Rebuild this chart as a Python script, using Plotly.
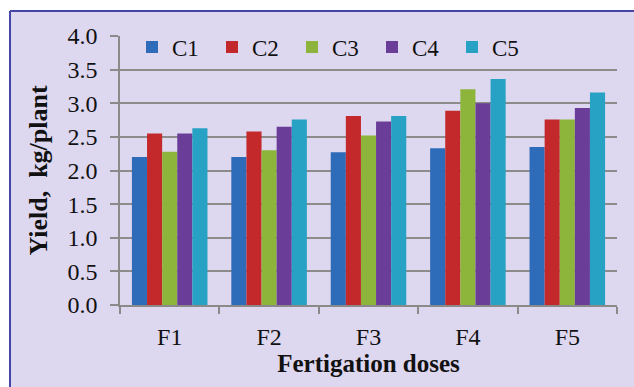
import plotly.graph_objects as go

categories = ["F1", "F2", "F3", "F4", "F5"]
series_names = ["C1", "C2", "C3", "C4", "C5"]
c1 = [2.20, 2.20, 2.27, 2.33, 2.35]
c2 = [2.55, 2.58, 2.81, 2.89, 2.76]
c3 = [2.28, 2.30, 2.52, 3.21, 2.76]
c4 = [2.55, 2.65, 2.73, 3.00, 2.93]
c5 = [2.63, 2.76, 2.81, 3.36, 3.16]
series_values = [c1, c2, c3, c4, c5]
colors = ["#2E6BB8", "#C3282B", "#8DB53B", "#6A3E98", "#27A2C4"]
y_ticks = [0, 0.5, 1.0, 1.5, 2.0, 2.5, 3.0, 3.5, 4.0]

FONT = "Liberation Serif"
BG = "#DDD7F0"
TXT = "#111111"

fig = go.Figure()
for name, vals, col in zip(series_names, series_values, colors):
    fig.add_trace(go.Bar(x=categories, y=vals, name=name, marker_color=col,
                         marker_line_width=0))

W, H = 634, 387
L, R, T, B = 120, 17, 36, 82
pw, ph = W - L - R, H - T - B

def px_x(p):
    return (p - L) / pw

def px_y(p):
    return (H - B - p) / ph

# white margins at top and left, blue border line
fig.add_shape(type="rect", xref="paper", yref="paper",
              x0=px_x(0), x1=px_x(634), y0=px_y(11), y1=px_y(0),
              fillcolor="white", line_width=0, layer="below")
fig.add_shape(type="rect", xref="paper", yref="paper",
              x0=px_x(0), x1=px_x(10), y0=px_y(387), y1=px_y(0),
              fillcolor="white", line_width=0, layer="below")
fig.add_shape(type="line", xref="paper", yref="paper",
              x0=px_x(10), x1=px_x(634), y0=px_y(11), y1=px_y(11),
              line=dict(color="#4646A8", width=2))
fig.add_shape(type="line", xref="paper", yref="paper",
              x0=px_x(10), x1=px_x(10), y0=px_y(11), y1=px_y(387),
              line=dict(color="#4646A8", width=2))

fig.update_layout(
    width=W, height=H,
    margin=dict(l=L, r=R, t=T, b=B, autoexpand=False),
    paper_bgcolor=BG, plot_bgcolor="rgba(0,0,0,0)",
    barmode="group", bargap=0.24, bargroupgap=0,
    font=dict(family=FONT, size=22, color=TXT),
    showlegend=True,
    legend=dict(orientation="h", x=px_x(132), y=px_y(47), xanchor="left", yanchor="middle",
                bgcolor="rgba(0,0,0,0)", font=dict(family=FONT, size=23, color=TXT),
                itemwidth=30, entrywidth=35, traceorder="normal"),
    xaxis=dict(showgrid=False, showline=True, linecolor="#8A8A8A", linewidth=1.5,
               ticks="outside", tickson="boundaries", ticklen=7, tickcolor="#8A8A8A",
               tickwidth=1.5, ticklabelstandoff=9,
               tickfont=dict(family=FONT, size=24, color=TXT),
               title=dict(text="<b>Fertigation doses</b>",
                          font=dict(family=FONT, size=25, color=TXT),
                          standoff=5),
               automargin=False),
    yaxis=dict(range=[0, 4], tickvals=y_ticks, tickformat=".1f",
               showgrid=True, gridcolor="#8C8C8C", gridwidth=1.5,
               showline=True, linecolor="#8A8A8A", linewidth=1.5,
               ticks="outside", ticklen=8, tickcolor="#8A8A8A", tickwidth=1.5,
               zeroline=False, ticklabelstandoff=8,
               tickfont=dict(family=FONT, size=24, color=TXT),
               title=dict(text="<b>Yield,  kg/plant</b>",
                          font=dict(family=FONT, size=26, color=TXT),
                          standoff=12),
               automargin=False),
)

fig.write_html("out.html")
